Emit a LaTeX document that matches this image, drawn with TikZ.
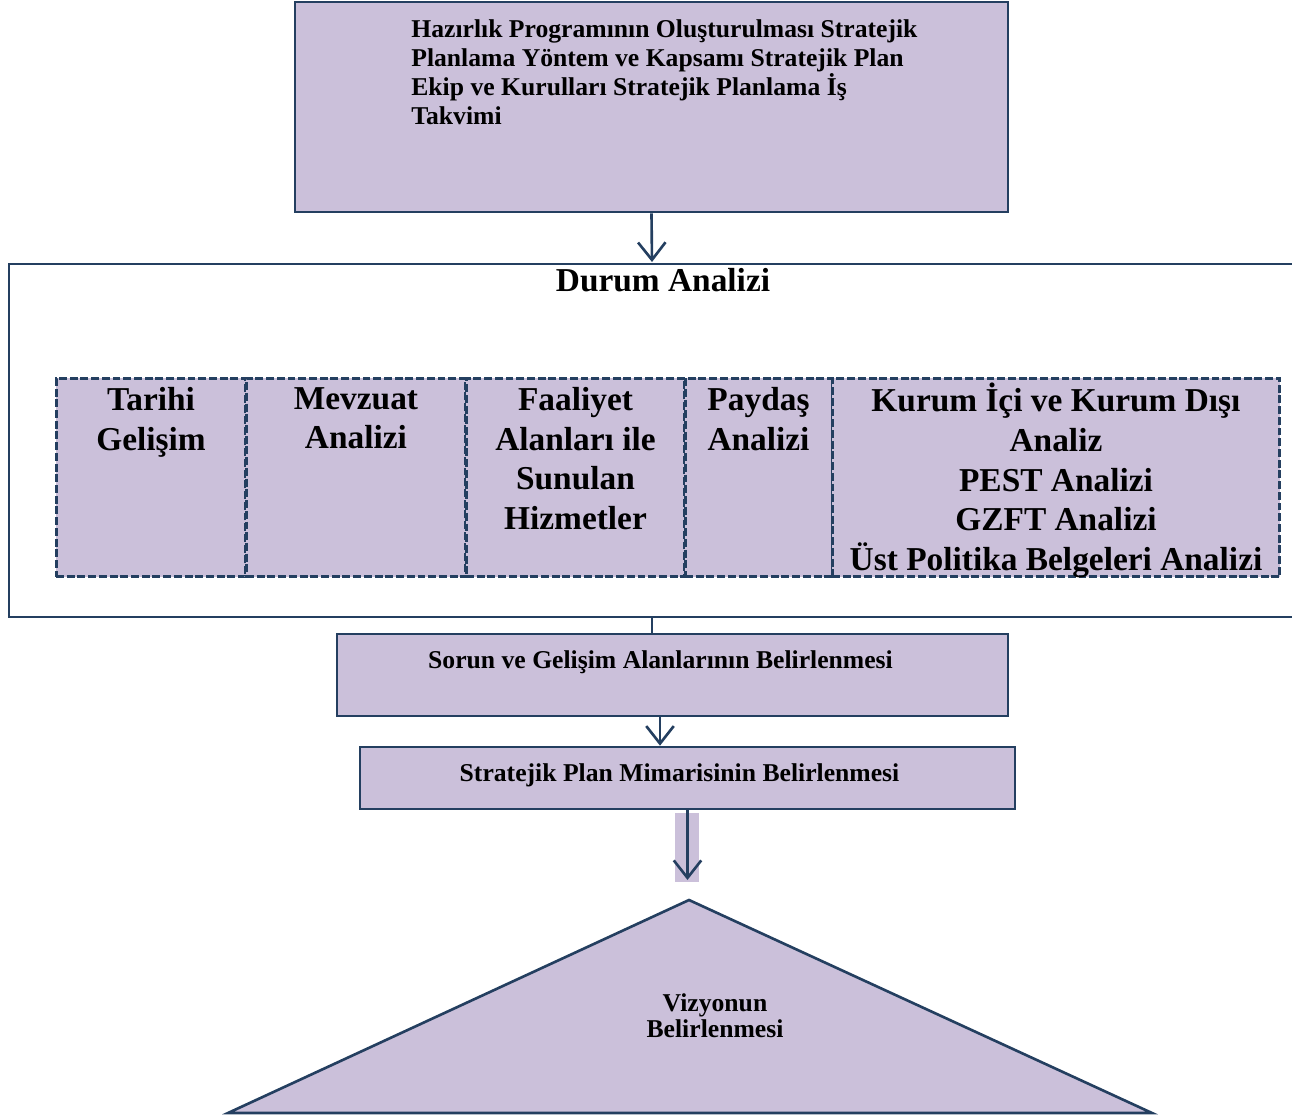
\documentclass[tikz,border=0pt]{standalone}
\usepackage{fontspec}
\setmainfont{Liberation Serif}
\usetikzlibrary{arrows.meta}
\definecolor{lila}{HTML}{CBC0DA}
\definecolor{lacivert}{HTML}{243F60}

\begin{document}
\begin{tikzpicture}[x=0.02cm, y=-0.02cm,
    kutu/.style={rectangle, draw=lacivert, fill=lila, line width=1.5pt, inner sep=0pt},
    kesik/.style={kutu, line width=1.7pt, dash pattern=on 4.5pt off 1.6pt, minimum height=3.98cm},
    yazi/.style={font=\bfseries\fontsize{14.6}{16.5}\selectfont, inner sep=0pt},
    buyuk/.style={font=\bfseries\fontsize{19}{22.5}\selectfont, inner sep=0pt, align=center, anchor=north},
    ok/.style={draw=lacivert, line width=1.5pt, -{Straight Barb[length=3.5mm, width=5.5mm]}}]
    \useasboundingbox (0,0) rectangle (1292,1115);

    \node[kutu, minimum width=14.26cm, minimum height=4.2cm] (hazirlik) at (651.5,107) {};
    \node[yazi, anchor=north west, align=left] (hazirlikyazi) at (411,19)
        {Hazırlık Programının Oluşturulması Stratejik\\Planlama Yöntem ve Kapsamı Stratejik Plan\\Ekip ve Kurulları Stratejik Planlama İş\\Takvimi};

    % durum analizi cercevesi
    \draw[lacivert, line width=1.5pt] (1300,264) -- (9,264) -- (9,617) -- (1300,617);
    \coordinate (durumust) at (652,262);
    \coordinate (durumalt) at (652,617);
    \node[font=\bfseries\fontsize{19}{22.5}\selectfont, inner sep=0pt, anchor=base] (durum) at (663,291) {Durum Analizi};
    \draw[ok] (hazirlik.south) -- (durumust);

    \node[kesik, minimum width=3.8cm] (tarihi) at (151,477.5) {};
    \node[kesik, minimum width=4.4cm] (mevzuat) at (356,477.5) {};
    \node[kesik, minimum width=4.38cm] (faaliyet) at (575.5,477.5) {};
    \node[kesik, minimum width=2.94cm] (paydas) at (758.5,477.5) {};
    \node[kesik, minimum width=8.96cm] (kurum) at (1056,477.5) {};
    \node[buyuk] (tarihiyazi) at (151,387) {Tarihi\\Gelişim};
    \node[buyuk] (mevzuatyazi) at (356,387) {Mevzuat\\Analizi};
    \node[buyuk] (faaliyetyazi) at (575.5,387) {Faaliyet\\Alanları ile\\Sunulan\\Hizmetler};
    \node[buyuk] (paydasyazi) at (758.5,387) {Paydaş\\Analizi};
    \node[buyuk] (kurumyazi) at (1056,383) {Kurum İçi ve Kurum Dışı\\Analiz\\PEST Analizi\\GZFT Analizi\\Üst Politika Belgeleri Analizi};

    \node[kutu, minimum width=13.42cm, minimum height=1.64cm] (sorun) at (672.5,675) {};
    \node[yazi, anchor=base] (sorunyazi) at (660.5,668) {Sorun ve Gelişim Alanlarının Belirlenmesi};
    \draw[lacivert, line width=1.5pt] (durumalt) -- (sorun.north -| durumalt);

    \node[kutu, minimum width=13.1cm, minimum height=1.24cm] (mimari) at (687.5,778) {};
    \node[yazi, anchor=base] (mimariyazi) at (679.5,781) {Stratejik Plan Mimarisinin Belirlenmesi};
    \draw[ok] ([xshift=-0.25cm]sorun.south) -- ([xshift=-0.25cm]sorun.south |- mimari.north);

    \fill[lila] (675,813) rectangle (699,882);
    \coordinate (okucu) at (687.5,880);
    \draw[ok] (mimari.south) -- (okucu);

    % vizyon ucgeni
    \filldraw[fill=lila, draw=lacivert, line width=1.5pt, line join=miter] (689,900) -- (1152,1113) -- (228,1113) -- cycle;
    \node[yazi, align=center, font=\bfseries\fontsize{14.6}{15}\selectfont] (vizyon) at (715,1016) {Vizyonun\\Belirlenmesi};
\end{tikzpicture}
\end{document}
